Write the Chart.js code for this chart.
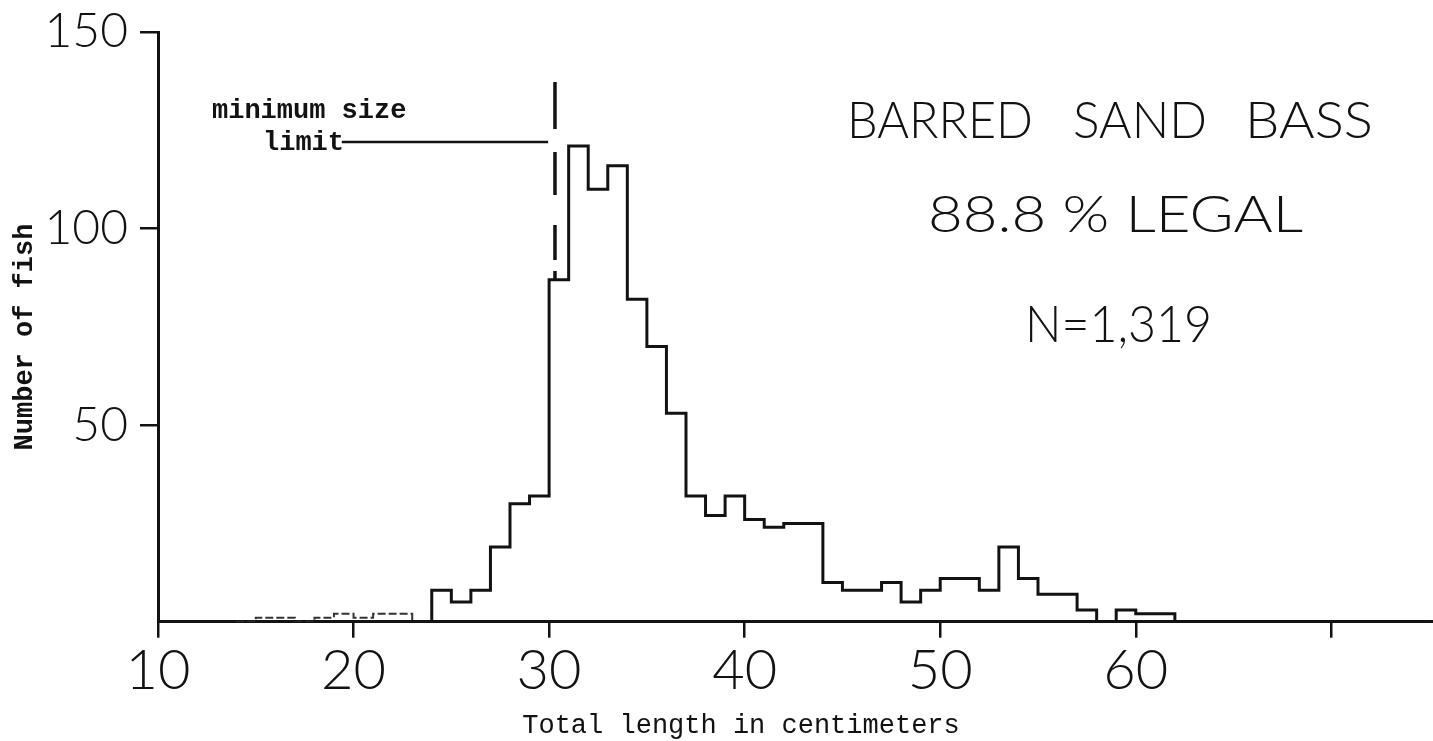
<!DOCTYPE html>
<html>
<head>
<meta charset="utf-8">
<script src="https://cdn.jsdelivr.net/npm/chart.js@4.4.1/dist/chart.umd.min.js"></script>
<style>
  html, body { margin: 0; padding: 0; background: #fff; }
  #wrap { width: 1433px; height: 741px; position: relative; }
</style>
</head>
<body>
<div id="wrap"><canvas id="chart" width="1433" height="741"></canvas></div>
<script>
// Barred sand bass length-frequency, 1-cm bins (left edge of each bin, cm)
const lengthCm = [10, 11, 12, 13, 14, 15, 16, 17, 18, 19,
                  20, 21, 22, 23, 24, 25, 26, 27, 28, 29,
                  30, 31, 32, 33, 34, 35, 36, 37, 38, 39,
                  40, 41, 42, 43, 44, 45, 46, 47, 48, 49,
                  50, 51, 52, 53, 54, 55, 56, 57, 58, 59,
                  60, 61, 62, 63, 64, 65, 66, 67, 68, 69,
                  70, 71, 72, 73, 74];
const fishCount = [0, 0, 0, 0, 0, 1, 1, 0, 1, 2,
                   1, 2, 2, 0, 8, 5, 8, 19, 30, 32,
                   87, 121, 110, 116, 82, 70, 53, 32, 27, 32,
                   26, 24, 25, 25, 10, 8, 8, 10, 5, 8,
                   11, 11, 8, 19, 11, 7, 7, 3, 0, 3,
                   2, 2, 0, 0, 0, 0, 0, 0, 0, 0,
                   0, 0, 0, 0, 0];
const lastEdgeCm = 75;

// First bin drawn with the solid outline; bins before it are sparse and drawn dashed
const solidFromCm = 23;

// Axis ticks
const xTickValues = [10, 20, 30, 40, 50, 60, 70];
const xTickLabels = ['10', '20', '30', '40', '50', '60', ''];
const yTickValues = [50, 100, 150];
const yTickLabels = ['50', '100', '150'];

// Minimum size limit marker (cm) and the counts its dashed line spans
const sizeLimitCm = 30.3;
const sizeLimitCounts = [137.3, 87];
const leaderCm = [19.4, 29.95];
const leaderCount = 122;

// Texts
const titleWords = ['BARRED', 'SAND', 'BASS'];
const legalText = '88.8 % LEGAL';
const sampleText = 'N=1,319';
const limitText = ['minimum size', 'limit'];
const xTitle = 'Total length in centimeters';
const yTitle = 'Number of fish';

// Build step outlines from the bins: each point holds its count until the next edge
const solidSeries = [];
const sparseSeries = [];
lengthCm.forEach((cm, i) => {
  if (cm >= solidFromCm) solidSeries.push({ x: cm, y: fishCount[i] });
  if (cm >= 14 && cm <= solidFromCm + 1) sparseSeries.push({ x: cm, y: fishCount[i] });
});
solidSeries.push({ x: lastEdgeCm, y: 0 });

const limitSeries = sizeLimitCounts.map(c => ({ x: sizeLimitCm, y: c }));
const leaderSeries = leaderCm.map(cm => ({ x: cm, y: leaderCount }));

const INK = '#121212';
const LETTER = '300 52px Lato, "DejaVu Sans", sans-serif';
const TYPE = 'bold 27px "Liberation Mono", "DejaVu Sans Mono", monospace';
const TYPE_REG = '27px "Liberation Mono", "DejaVu Sans Mono", monospace';

function fitText(ctx, text, x, baseline, width, font) {
  ctx.font = font;
  const w = ctx.measureText(text).width;
  ctx.save();
  ctx.translate(x, baseline);
  ctx.scale(width / w, 1);
  ctx.textAlign = 'left';
  ctx.textBaseline = 'alphabetic';
  ctx.fillText(text, 0, 0);
  ctx.restore();
}

const annotations = {
  id: 'annotations',
  afterDraw(chart) {
    const ctx = chart.ctx;
    ctx.save();
    ctx.fillStyle = INK;

    // Species title, one word at a time to keep the wide lettering gaps
    fitText(ctx, titleWords[0], 847, 138, 186, LETTER);
    fitText(ctx, titleWords[1], 1073, 138, 134, LETTER);
    fitText(ctx, titleWords[2], 1245, 138, 128, LETTER);
    fitText(ctx, legalText, 928, 232, 375, LETTER);
    fitText(ctx, sampleText, 1025, 342, 187, LETTER);

    // Size-limit callout
    ctx.font = TYPE;
    ctx.textAlign = 'left';
    ctx.textBaseline = 'alphabetic';
    ctx.fillText(limitText[0], 212, 118);
    ctx.fillText(limitText[1], 263, 150);

    // Axis titles
    ctx.font = TYPE_REG;
    ctx.textAlign = 'center';
    ctx.fillText(xTitle, 741, 733);

    ctx.font = TYPE;
    ctx.translate(32, 337);
    ctx.rotate(-Math.PI / 2);
    ctx.fillText(yTitle, 0, 0);
    ctx.restore();
  }
};

new Chart(document.getElementById('chart').getContext('2d'), {
  type: 'line',
  data: {
    datasets: [
      { data: solidSeries, stepped: 'before', borderColor: INK, borderWidth: 3,
        pointRadius: 0, fill: false },
      { data: sparseSeries, stepped: 'before', borderColor: '#333', borderWidth: 2,
        borderDash: [8, 3], pointRadius: 0, fill: false },
      { data: limitSeries, borderColor: INK, borderWidth: 3.5,
        borderDash: [47, 23, 43, 30, 35, 11, 9, 40], pointRadius: 0, fill: false },
      { data: leaderSeries, borderColor: INK, borderWidth: 2.5, pointRadius: 0, fill: false }
    ]
  },
  options: {
    responsive: false,
    animation: false,
    events: [],
    layout: { padding: { top: 32, left: 0, right: 0, bottom: 0 } },
    plugins: { legend: { display: false }, tooltip: { enabled: false } },
    scales: {
      x: {
        type: 'linear',
        min: 10,
        max: 75.2,
        afterBuildTicks: s => { s.ticks = xTickValues.map(v => ({ value: v })); },
        afterFit: s => { s.height = 119.3; s.paddingLeft = 0; s.paddingRight = 0; },
        ticks: {
          callback: v => xTickLabels[xTickValues.indexOf(v)] ?? '',
          font: { family: 'Lato', size: 56, weight: '300' },
          color: INK,
          padding: 0,
          maxRotation: 0,
          autoSkip: false
        },
        grid: { drawOnChartArea: false, drawTicks: true, tickLength: 16, color: INK, lineWidth: 2.5 },
        border: { color: INK, width: 3 }
      },
      y: {
        type: 'linear',
        min: 0,
        max: 150,
        afterBuildTicks: s => { s.ticks = yTickValues.map(v => ({ value: v })); },
        afterFit: s => { s.width = 158; s.paddingTop = 0; s.paddingBottom = 0; },
        ticks: {
          callback: v => yTickLabels[yTickValues.indexOf(v)] ?? '',
          font: { family: 'Lato', size: 48, weight: '300' },
          color: INK,
          padding: 12
        },
        grid: { drawOnChartArea: false, drawTicks: true, tickLength: 18, color: INK, lineWidth: 2.5 },
        border: { color: INK, width: 3 }
      }
    }
  },
  plugins: [annotations]
});
</script>
</body>
</html>
